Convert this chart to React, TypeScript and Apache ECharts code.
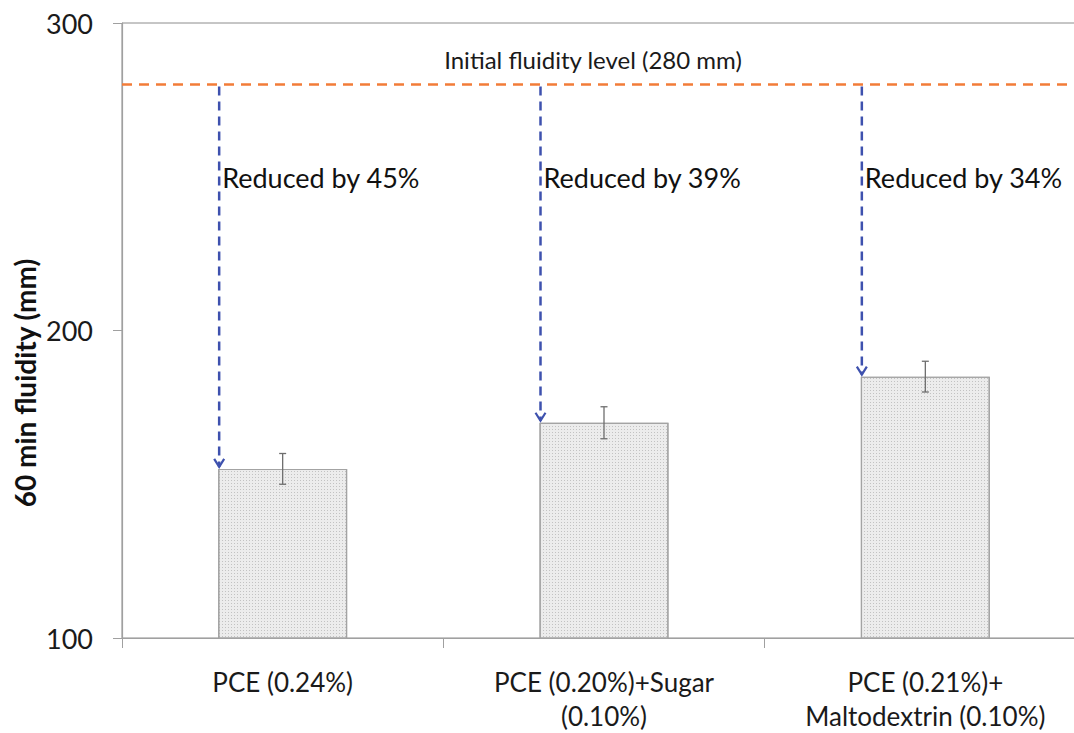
import React, { useEffect, useRef } from "react";
import * as echarts from "echarts";

// Mixes tested and their 60-minute fluidity (mm)
const categories = [
  "PCE (0.24%)",
  "PCE (0.20%)+Sugar\n(0.10%)",
  "PCE (0.21%)+\nMaltodextrin (0.10%)",
];
const fluidity60 = [155, 170, 185];
const errorHalf = [5, 5.2, 5];
const initialFluidity = 280;
const yTicks = { min: 100, max: 300, interval: 100 };

const FONT = "Lato, 'Open Sans', sans-serif";
const BAR_WIDTH = 129;
const ORANGE = "#F27C38";
const BLUE = "#3E51AE";

export default function App() {
  const ref = useRef<HTMLDivElement>(null);

  useEffect(() => {
    if (!ref.current) return;
    const chart = echarts.init(ref.current, undefined, { renderer: "svg" });

    const arrowData = fluidity60.map((v, i) => [i, v]);
    const errorData = fluidity60.map((v, i) => [i, v - errorHalf[i], v + errorHalf[i]]);

    chart.setOption({
      animation: false,
      backgroundColor: "#ffffff",
      grid: {
        left: 122,
        top: 23,
        width: 964,
        height: 620,
        show: true,
        borderColor: "#8c8c8c",
        borderWidth: 1,
      },
      xAxis: {
        type: "category",
        data: categories,
        axisLine: { lineStyle: { color: "#a0a0a0", width: 1.2 } },
        axisTick: { show: true, alignWithLabel: false, length: 10, lineStyle: { color: "#a0a0a0" } },
        axisLabel: {
          color: "#1a1a1a",
          fontFamily: FONT,
          fontSize: 26,
          lineHeight: 34,
          margin: 27,
          interval: 0,
        },
      },
      yAxis: {
        type: "value",
        min: yTicks.min,
        max: yTicks.max,
        interval: yTicks.interval,
        splitLine: { show: false },
        axisLine: { show: true, lineStyle: { color: "#a0a0a0", width: 1.2 } },
        axisTick: { show: true, length: 9, lineStyle: { color: "#a0a0a0" } },
        axisLabel: { color: "#1a1a1a", fontFamily: FONT, fontSize: 27, margin: 29 },
      },
      graphic: [
        {
          type: "text",
          x: 25,
          y: 383,
          rotation: Math.PI / 2,
          style: {
            text: "60 min fluidity (mm)",
            fontFamily: FONT,
            fontWeight: "bold",
            fontSize: 28,
            fill: "#111",
            align: "center",
            verticalAlign: "middle",
          },
        },
      ],
      series: [
        {
          type: "bar",
          data: fluidity60,
          barWidth: BAR_WIDTH,
          z: 2,
          itemStyle: {
            color: "#ececec",
            borderColor: "#a3a3a3",
            borderWidth: 1.2,
            decal: {
              symbol: "rect",
              symbolSize: 1,
              dashArrayX: [1, 2],
              dashArrayY: [1, 2],
              color: "rgba(160,160,160,0.55)",
              rotation: 0,
            },
          },
          markLine: {
            silent: true,
            symbol: "none",
            lineStyle: { color: ORANGE, width: 2.5, type: [10, 7] },
            label: {
              show: true,
              position: "insideMiddleTop",
              distance: 13,
              padding: [0, 22, 0, 0],
              formatter: `Initial fluidity level (${initialFluidity} mm)`,
              color: "#1a1a1a",
              fontFamily: FONT,
              fontSize: 24,
            },
            data: [{ yAxis: initialFluidity }],
          },
        },
        {
          // error bars
          type: "custom",
          data: errorData,
          z: 4,
          renderItem: (params: any, api: any) => {
            const i = api.value(0);
            const lo = api.coord([i, api.value(1)]);
            const hi = api.coord([i, api.value(2)]);
            const x = lo[0];
            const cap = 3.5;
            const style = { stroke: "#6e6e6e", lineWidth: 1.3 };
            return {
              type: "group",
              children: [
                { type: "line", shape: { x1: x, y1: hi[1], x2: x, y2: lo[1] }, style },
                { type: "line", shape: { x1: x - cap, y1: hi[1], x2: x + cap, y2: hi[1] }, style },
                { type: "line", shape: { x1: x - cap, y1: lo[1], x2: x + cap, y2: lo[1] }, style },
              ],
            };
          },
        },
        {
          // reduction arrows from the initial level down to each bar
          type: "custom",
          data: arrowData,
          z: 5,
          renderItem: (params: any, api: any) => {
            const i = api.value(0);
            const v = api.value(1);
            const top = api.coord([i, initialFluidity]);
            const bottom = api.coord([i, v]);
            const x = top[0] - BAR_WIDTH / 2 + 1;
            const yEnd = bottom[1] - 2;
            const pct = Math.round((1 - v / initialFluidity) * 100);
            return {
              type: "group",
              children: [
                {
                  type: "line",
                  shape: { x1: x, y1: top[1] + 2, x2: x, y2: yEnd },
                  style: { stroke: BLUE, lineWidth: 2.5, lineDash: [9, 6] },
                },
                {
                  type: "polyline",
                  shape: { points: [[x - 5, yEnd - 8], [x, yEnd], [x + 5, yEnd - 8]] },
                  style: { stroke: BLUE, lineWidth: 2.2, fill: "none" },
                },
                {
                  type: "text",
                  x: x + 3,
                  y: top[1] + 93,
                  style: {
                    text: `Reduced by ${pct}%`,
                    fontFamily: FONT,
                    fontSize: 27,
                    fill: "#111",
                    align: "left",
                    verticalAlign: "middle",
                  },
                },
              ],
            };
          },
        },
      ],
    });

    return () => chart.dispose();
  }, []);

  // the plot runs past the right edge of the frame, so the chart surface is wider than the window
  return (
    <div
      style={{ position: "absolute", left: 0, top: 0, width: 1074, height: 733, overflow: "hidden" }}
    >
      <div ref={ref} style={{ width: 1100, height: 733 }} />
    </div>
  );
}
